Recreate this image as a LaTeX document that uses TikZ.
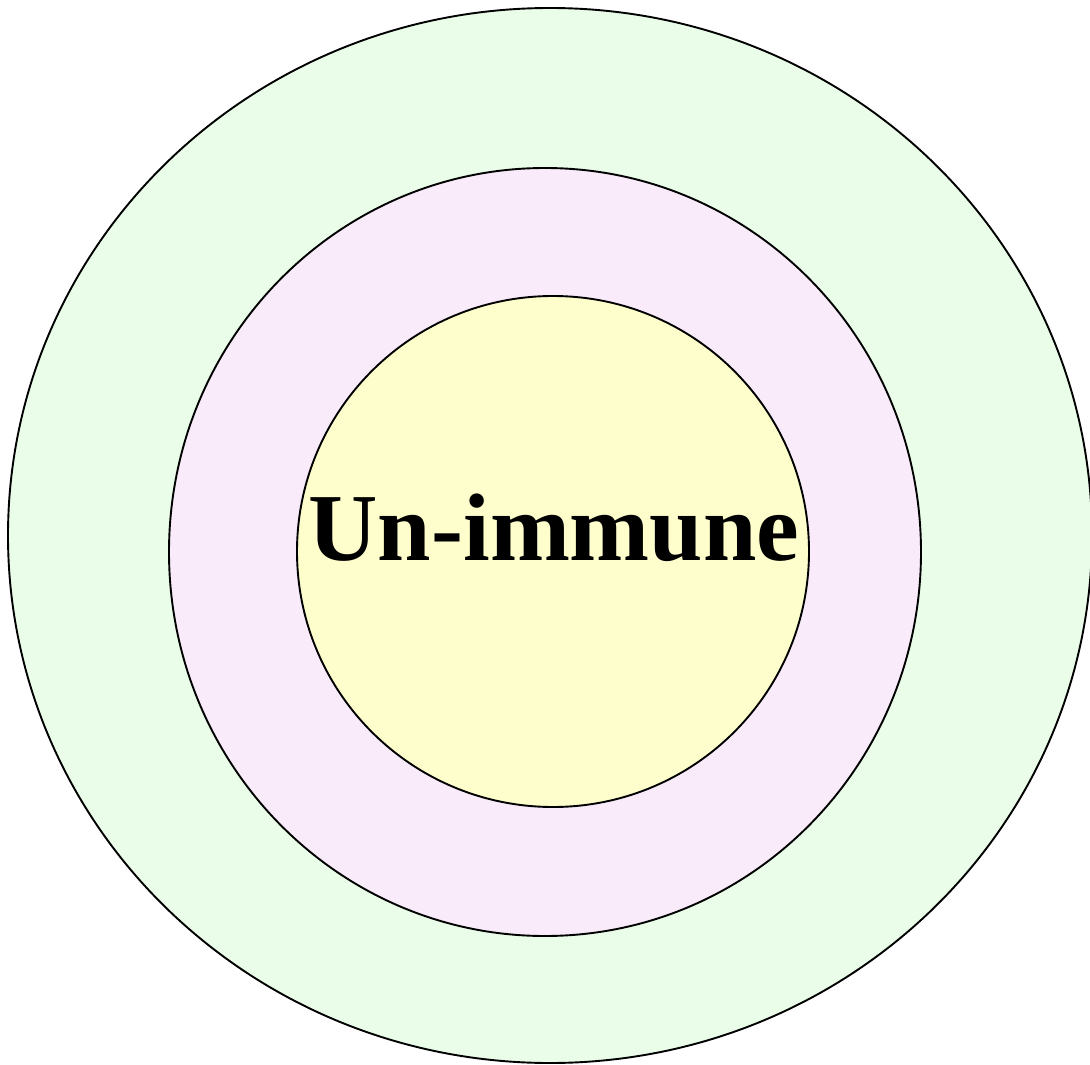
\documentclass[tikz,border=0pt]{standalone}
\usepackage{fontspec}
\setmainfont{Liberation Serif}
\definecolor{outerg}{RGB}{233,253,233}
\definecolor{midp}{RGB}{249,235,249}
\definecolor{inny}{RGB}{254,254,204}
\begin{document}
\begin{tikzpicture}[x=1pt,y=-1pt,
  ring/.style={draw=black,line width=1.9pt}]
\useasboundingbox (0,0) rectangle (1090,1065);
\begin{scope}
\clip (0,0) rectangle (1090,1065);
\path[ring,fill=outerg] (550,535.5) ellipse [x radius=542,y radius=527.5];
\end{scope}
\path[ring,fill=midp] (545,552) ellipse [x radius=376,y radius=384];
\path[ring,fill=inny] (553,551.5) ellipse [x radius=256,y radius=255.5];
\node[anchor=base,inner sep=0pt,font=\fontsize{96}{96}\selectfont\bfseries] (lbl) at (554,560) {Un-immune};
\end{tikzpicture}
\end{document}
